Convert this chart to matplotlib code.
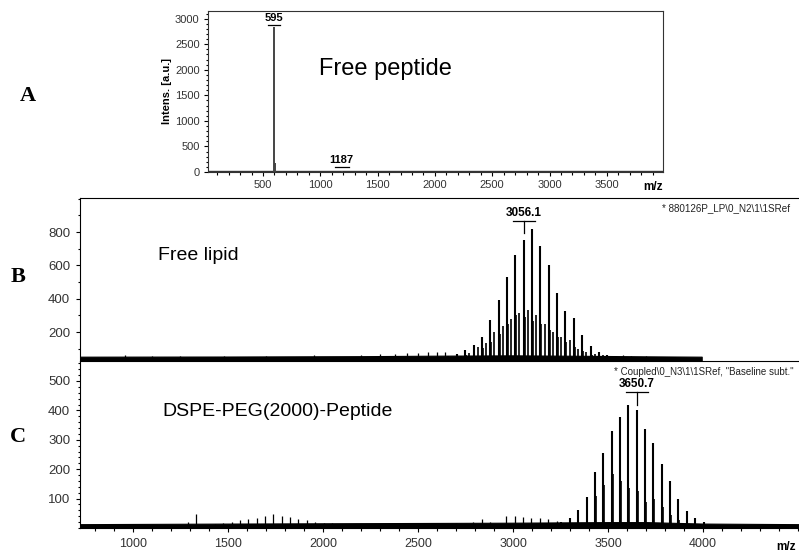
import matplotlib
matplotlib.use("Agg")
import matplotlib.pyplot as plt
from matplotlib.ticker import MultipleLocator

plt.rcParams['font.family'] = ['Liberation Sans', 'DejaVu Sans']

# ---- data ----
# A: free peptide
a_mz = [595, 608, 1187]
a_int = [2830, 170, 25]
a_labels = [(595, 2882, "595", 98), (1187, 98, "1187", 125)]

# B: free lipid, PEG ladder (44 Da)
b_main_mz = [2660.1, 2704.1, 2748.1, 2792.1, 2836.1, 2880.1, 2924.1, 2968.1, 3012.1, 3056.1,
             3100.1, 3144.1, 3188.1, 3232.1, 3276.1, 3320.1, 3364.1, 3408.1, 3452.1, 3496.1, 3540.1]
b_main_int = [55, 68, 90, 122, 172, 272, 392, 528, 662, 752,
              816, 718, 602, 436, 326, 282, 182, 118, 80, 62, 55]
b_adj_mz = [2709, 2753, 2797, 2841, 2885, 2929, 2973, 3017, 3061, 3105, 3149, 3193, 3237, 3281, 3325, 3369, 3413]
b_adj_int = [50, 62, 80, 105, 140, 190, 250, 300, 292, 268, 250, 210, 170, 140, 110, 85, 65]
b_mid_mz = [2726, 2770, 2814, 2858, 2902, 2946, 2990, 3034, 3078, 3122, 3166, 3210, 3254, 3298, 3342, 3386, 3430, 3474, 3518]
b_mid_int = [58, 75, 110, 135, 200, 236, 276, 312, 330, 302, 246, 202, 172, 152, 100, 82, 70, 60, 55]
b_small_mz = [958, 1100, 1250, 1480, 1700, 1950, 2200, 2300, 2380, 2440, 2500, 2550, 2600, 2640, 3580, 3620, 3700]
b_small_int = [62, 56, 58, 56, 58, 60, 64, 66, 68, 72, 74, 78, 82, 80, 62, 58, 56]
b_base_mz = [720, 1500, 2200, 2600, 3000, 3400, 3700, 3993]
b_base_hi = [52, 53, 55, 58, 60, 57, 54, 52]

# C: DSPE-PEG(2000)-peptide
c_main_mz = [3254.7, 3298.7, 3342.7, 3386.7, 3430.7, 3474.7, 3518.7, 3562.7, 3606.7, 3650.7,
             3694.7, 3738.7, 3782.7, 3826.7, 3870.7, 3914.7, 3958.7, 4002.7]
c_main_int = [22, 35, 60, 104, 190, 255, 331, 377, 419, 402, 336, 289, 219, 161, 97, 59, 35, 20]
c_adj_mz = [3391.7, 3435.7, 3479.7, 3523.7, 3567.7, 3611.7, 3655.7, 3699.7, 3743.7, 3787.7, 3831.7, 3875.7]
c_adj_int = [45, 110, 145, 185, 160, 135, 125, 90, 100, 70, 45, 28]
c_small_mz = [1288, 1332, 1431, 1475, 1519, 1563, 1607, 1651, 1695, 1739, 1783, 1827, 1871, 1915,
              1959, 2003, 2047, 2700, 2790, 2835, 2880, 2963, 3011, 3054, 3095, 3142, 3186, 3230]
c_small_int = [20, 46, 15, 18, 22, 28, 30, 35, 40, 46, 42, 36, 30, 26,
               22, 18, 16, 18, 20, 29, 22, 40, 42, 37, 35, 35, 29, 25]
c_base_mz = [720, 1500, 2500, 3000, 3500, 3700, 4000, 4505]
c_base_hi = [13, 15, 17, 18, 20, 20, 15, 13]

tick_col = '#333333'

fig = plt.figure(figsize=(7.99, 5.52), dpi=100)

def style(ax, size=8.5):
    ax.tick_params(axis='both', which='both', direction='out', colors='black',
                   labelcolor=tick_col, labelsize=size, width=0.8)
    ax.tick_params(which='major', length=3, pad=4)
    ax.tick_params(which='minor', length=1.8)

def peak_label(ax, mz, y, text, width, drop, size=8.5):
    ax.plot([mz - width / 2, mz + width / 2], [y, y], color='black', lw=0.9)
    if drop:
        ax.plot([mz, mz], [y, y - drop], color='black', lw=0.9)
    ax.annotate(text, (mz, y), xytext=(0, 1.5), textcoords='offset points',
                ha='center', va='bottom', fontsize=size, fontweight='bold')

# ---- panel A ----
axA = fig.add_axes([0.2603, 0.6884, 0.5695, 0.2917])
axA.plot([20, 3990], [12, 12], color='#333333', lw=1.0)
axA.vlines(a_mz, 0, a_int, color='#444444', lw=1.4)
for mz, y, t, w in a_labels:
    peak_label(axA, mz, y, t, w, 0, size=8)
axA.set_xlim(20, 3990)
axA.set_ylim(0, 3150)
axA.set_xticks([500, 1000, 1500, 2000, 2500, 3000, 3500])
axA.set_yticks([0, 500, 1000, 1500, 2000, 2500, 3000])
axA.xaxis.set_minor_locator(MultipleLocator(100))
axA.yaxis.set_minor_locator(MultipleLocator(100))
style(axA, 8)
axA.tick_params(which='major', pad=3)
for s in axA.spines.values():
    s.set_color('#333333')
axA.set_ylabel("Intens. [a.u.]", fontsize=8, fontweight='bold', labelpad=2)
axA.text(1.0, -0.055, "m/z", transform=axA.transAxes, ha='right', va='top',
         fontsize=8.5, fontweight='bold')
axA.text(0.39, 0.64, "Free peptide", transform=axA.transAxes, ha='center', va='center',
         fontsize=17)

# ---- panel B ----
axB = fig.add_axes([0.1001, 0.346, 0.8999, 0.2953])
axB.fill_between(b_base_mz, 26, b_base_hi, color='black', lw=0.8)
axB.vlines(b_small_mz, 26, b_small_int, color='black', lw=0.9)
axB.vlines(b_mid_mz, 26, b_mid_int, color='black', lw=1.2)
axB.vlines(b_adj_mz, 26, b_adj_int, color='black', lw=1.2)
axB.vlines(b_main_mz, 26, b_main_int, color='black', lw=1.5)
peak_label(axB, 3056.1, 866, "3056.1", 116, 72)
axB.set_xlim(721, 4505)
axB.set_ylim(26, 1004)
axB.set_yticks([200, 400, 600, 800])
axB.yaxis.set_minor_locator(MultipleLocator(100))
axB.set_xticks([])
style(axB, 9.5)
axB.spines['right'].set_visible(False)
axB.spines['bottom'].set_visible(False)
axB.text(0.165, 0.65, "Free lipid", transform=axB.transAxes, ha='center', va='center', fontsize=14)
axB.text(0.809, 0.939, "* 880126P_LP\\0_N2\\1\\1SRef", transform=axB.transAxes,
         ha='left', va='center', fontsize=7.1, color='#222222')

# ---- panel C ----
axC = fig.add_axes([0.1001, 0.0435, 0.8999, 0.3025])
axC.fill_between(c_base_mz, 0, c_base_hi, color='black', lw=0.8)
axC.vlines(c_small_mz, 0, c_small_int, color='black', lw=0.9)
axC.vlines(c_adj_mz, 0, c_adj_int, color='black', lw=1.2)
axC.vlines(c_main_mz, 0, c_main_int, color='black', lw=1.5)
peak_label(axC, 3650.7, 463, "3650.7", 116, 44)
axC.set_xlim(721, 4505)
axC.set_ylim(0, 568)
axC.set_xticks([1000, 1500, 2000, 2500, 3000, 3500, 4000])
axC.set_yticks([100, 200, 300, 400, 500])
axC.yaxis.set_minor_locator(MultipleLocator(20))
axC.xaxis.set_minor_locator(MultipleLocator(100))
style(axC, 9.5)
axC.tick_params(axis='x', labelsize=9)
axC.spines['right'].set_visible(False)
axC.text(0.114, 0.695, "DSPE-PEG(2000)-Peptide", transform=axC.transAxes,
         ha='left', va='center', fontsize=14)
axC.text(0.743, 0.934, "* Coupled\\0_N3\\1\\1SRef, \"Baseline subt.\"", transform=axC.transAxes,
         ha='left', va='center', fontsize=7.0, color='#222222')
axC.text(0.995, -0.075, "m/z", transform=axC.transAxes, ha='right', va='top',
         fontsize=8.5, fontweight='bold')

# panel letters
for lbl, x, y in [("A", 28, 96), ("B", 18, 277), ("C", 18, 437)]:
    fig.text(x / 799, 1 - y / 552, lbl, ha='center', va='center', fontsize=16,
             fontweight='bold', family=['Liberation Serif', 'DejaVu Serif'])

fig.savefig("out.png", dpi=100)
